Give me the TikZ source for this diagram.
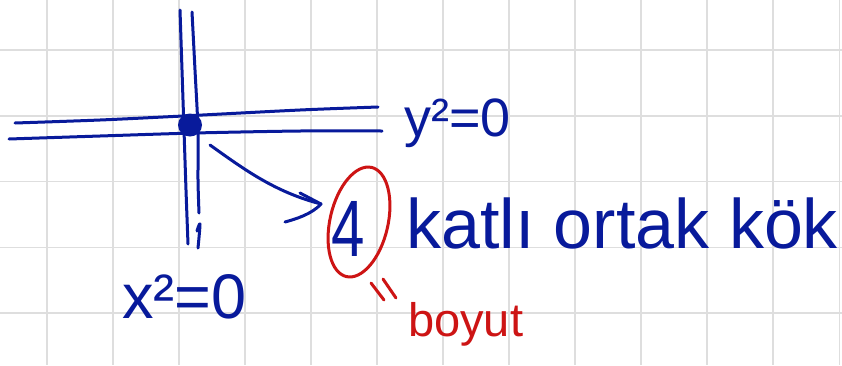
\documentclass[tikz,border=0pt]{standalone}
\usepackage{fontspec}
\setmainfont{Liberation Sans}
\usetikzlibrary{shapes.geometric}
\definecolor{ink}{RGB}{8,26,155}
\definecolor{redink}{RGB}{205,20,20}
\definecolor{gridc}{RGB}{222,222,222}
\tikzset{
  pen/.style={draw=ink, line width=3pt, line cap=round, line join=round},
  redpen/.style={draw=redink, line width=3pt, line cap=round, line join=round},
  gridline/.style={draw=gridc, line width=1.6pt},
  label/.style={anchor=base west, inner sep=0pt, text=ink},
}
\begin{document}
\begin{tikzpicture}[x=1pt,y=-1pt]
\useasboundingbox (0,0) rectangle (842,365);
\fill[white] (0,0) rectangle (842,365);
% grid paper
\foreach \i in {0,...,12} \draw[gridline] ({46.7+66.05*\i},0) -- ++(0,365);
\foreach \j in {0,...,4} \draw[gridline] (0,{50+65.8*\j}) -- ++(842,0);
% double lines
\draw[pen] plot[smooth] coordinates {(180,10) (182,70) (184,130) (186,190) (188,244)};
\draw[pen] plot[smooth] coordinates {(192,12) (195,70) (198,130) (198,180) (199,213)};
\draw[pen] plot[smooth] coordinates {(197,231) (200,224) (198,248)};
\draw[pen] plot[smooth] coordinates {(15,123) (100,120) (183,116) (300,110) (378,107)};
\draw[pen] plot[smooth] coordinates {(9,139) (100,136) (195,133) (300,131) (382,131)};
% point
\node[ellipse, fill=ink, minimum width=24pt, minimum height=23pt, inner sep=0pt] (pt) at (190,125) {};
% labels
\node[label, font=\fontsize{63}{63}\selectfont] (xeq) at (122,318) {x²=0};
\node[label, font=\fontsize{54}{54}\selectfont] (yeq) at (404,136) {y²=0};
\node[label, font=\fontsize{80}{80}\selectfont, xscale=0.75, transform shape] (four) at (331,256) {4};
\node[ellipse, draw=redink, line width=3pt, minimum width=58pt, minimum height=112pt, rotate=-13] (ring) at (359,222) {};
\node[label, font=\fontsize{70}{70}\selectfont] (kat) at (406,248) {katlı ortak kök};
\node[label, text=redink, font=\fontsize{47}{47}\selectfont] (boyut) at (408,336) {boyut};
% arrow from point to 4
\coordinate (astart) at (210,145);
\coordinate (tip) at (321,204);
\draw[pen] (astart) .. controls (245,170) and (275,192) .. (tip);
\draw[pen] (300,193) -- (tip) .. controls (312,214) and (296,219) .. (285,222);
% ditto marks
\draw[redpen] (371,283) -- (384,300);
\draw[redpen] (383,279) -- (396,298);
\end{tikzpicture}
\end{document}
